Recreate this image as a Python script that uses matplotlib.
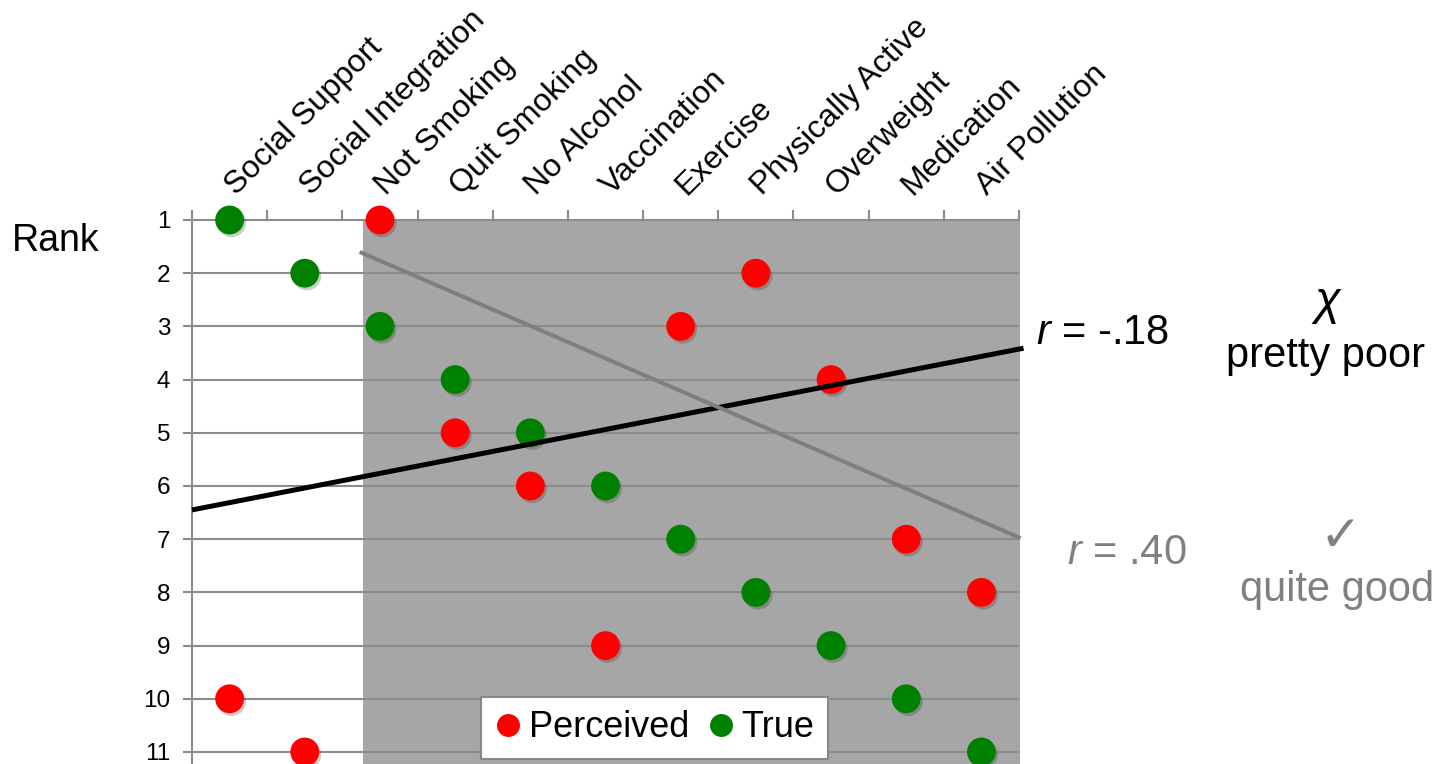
"""Perceived vs. true rank of health factors, with two drawn fit lines."""

import matplotlib

matplotlib.use("Agg")
import matplotlib.patheffects as pe
import matplotlib.pyplot as plt
import matplotlib.transforms as mtransforms
from matplotlib.lines import Line2D
from matplotlib.patches import Rectangle

FACTORS = [
    "Social Support",
    "Social Integration",
    "Not Smoking",
    "Quit Smoking",
    "No Alcohol",
    "Vaccination",
    "Exercise",
    "Physically Active",
    "Overweight",
    "Medication",
    "Air Pollution",
]
PERCEIVED_RANK = [10, 11, 1, 5, 6, 9, 3, 2, 4, 7, 8]
TRUE_RANK = [1, 2, 3, 4, 5, 6, 7, 8, 9, 10, 11]
RANK_TICKS = list(range(1, 12))

# hand-drawn trend lines (category index, rank)
ALL_LINE_X = [0.5, 11.56]
ALL_LINE_Y = [6.45, 3.41]
SUBSET_LINE_X = [2.73, 11.52]
SUBSET_LINE_Y = [1.60, 6.98]
SHADE_FROM = 2.77

RED = "#FF0000"
GREEN = "#008000"
GRID = "#8C8C8C"
GREY_TEXT = "#808080"

plt.rcParams["font.family"] = ["Liberation Sans", "DejaVu Sans"]
plt.rcParams["mathtext.fontset"] = "custom"
plt.rcParams["mathtext.it"] = "Liberation Sans:italic"
plt.rcParams["mathtext.rm"] = "Liberation Sans"

W, H = 1452, 764
fig = plt.figure(figsize=(W / 100, H / 100), dpi=100)
ax = fig.add_axes([192 / W, 0, (1019 - 192) / W, (H - 220) / H])

n = len(FACTORS)
xs = list(range(1, n + 1))
ax.set_xlim(0.5, n + 0.5)
ax.set_ylim(11.226, 1)

ax.add_patch(
    Rectangle((SHADE_FROM, 1), n + 0.51 - SHADE_FROM, 11, facecolor="#A6A6A6",
              edgecolor="none", zorder=0.3, clip_on=False)
)

for r in RANK_TICKS:
    ax.axhline(r, color=GRID, linewidth=1.5, zorder=1)

shadow = [pe.SimplePatchShadow(offset=(1.5, -2), alpha=0.22), pe.Normal()]
ax.scatter(xs, PERCEIVED_RANK, s=430, color=RED, zorder=3, clip_on=False,
           linewidths=0, path_effects=shadow)
ax.scatter(xs, TRUE_RANK, s=430, color=GREEN, zorder=3, clip_on=False,
           linewidths=0, path_effects=shadow)

ax.plot(ALL_LINE_X, ALL_LINE_Y, color="black", linewidth=3.6, zorder=4,
        clip_on=False, solid_capstyle="butt")
ax.plot(SUBSET_LINE_X, SUBSET_LINE_Y, color="#7F7F7F", linewidth=2.9, zorder=4,
        clip_on=False, solid_capstyle="butt")

for side in ("right", "bottom"):
    ax.spines[side].set_visible(False)
ax.spines["top"].set_color(GRID)
ax.spines["top"].set_linewidth(1.5)
ax.spines["left"].set_color(GRID)
ax.spines["left"].set_linewidth(1.5)

ax.set_yticks(RANK_TICKS)
ax.set_yticklabels([str(r) for r in RANK_TICKS], fontsize=17.5)
ax.tick_params(axis="y", length=6.5, width=1.5, color=GRID, pad=9)

ax.xaxis.tick_top()
ax.set_xticks(xs)
ax.set_xticks([x - 0.5 for x in xs] + [n + 0.5], minor=True)
ax.tick_params(axis="x", which="major", length=0, pad=17)
ax.tick_params(axis="x", which="minor", length=7, width=1.5, color=GRID, top=True,
               bottom=False)
ax.set_xticklabels(FACTORS, fontsize=23, rotation=45, ha="left", va="baseline",
                   rotation_mode="anchor")
shift = mtransforms.ScaledTranslation(6 / 100, 0, fig.dpi_scale_trans)
for lab in ax.get_xticklabels():
    lab.set_transform(lab.get_transform() + shift)

handles = [
    Line2D([], [], linestyle="none", marker="o", markersize=15.5, color=RED,
           label="Perceived"),
    Line2D([], [], linestyle="none", marker="o", markersize=15.5, color=GREEN,
           label="True"),
]
leg = ax.legend(handles=handles, loc="lower center", bbox_to_anchor=(0.559, 0.009),
                ncol=2, fontsize=26, frameon=True, fancybox=False, framealpha=1,
                edgecolor="#888888", borderaxespad=0, borderpad=0.38,
                handlelength=0.75, handletextpad=0.2, columnspacing=0.5)
leg.get_frame().set_linewidth(1.5)
leg.set_zorder(5)

def px(x, y):
    return x / W, 1 - y / H

fig.text(*px(12, 241), "Rank", fontsize=27, ha="left", va="center")
fig.text(*px(1036, 333), r"$\it{r}$ = -.18", fontsize=30, ha="left", va="center")
fig.text(*px(1327, 302), "\u03c7", fontsize=34, ha="center", va="center",
         style="italic", family="Liberation Sans")
fig.text(*px(1326, 356), "pretty poor", fontsize=30, ha="center", va="center")
fig.text(*px(1067, 553), r"$\it{r}$ = .40", fontsize=30, ha="left", va="center")
fig.texts[-1].set_color(GREY_TEXT)
fig.text(*px(1340, 537), "\u2713", fontsize=36, ha="center", va="center",
         color=GREY_TEXT, family="DejaVu Sans", fontweight="bold")
fig.text(*px(1337, 590), "quite good", fontsize=30, ha="center", va="center",
         color=GREY_TEXT)

fig.savefig("out.png", dpi=100)
